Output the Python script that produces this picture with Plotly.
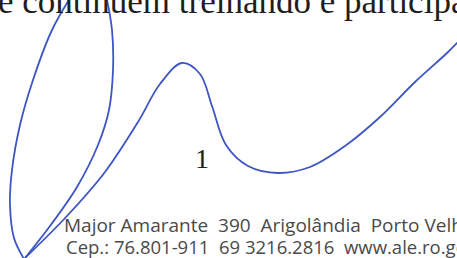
import plotly.graph_objects as go

# Signature strokes (pixel-like coordinates, y downward)
left_x = [72, 52, 33, 20, 12, 10, 14, 24]
left_y = [-5, 30, 80, 125, 170, 205, 238, 259]

right_x = [106, 112, 113, 109, 98, 77, 50, 25]
right_y = [-5, 30, 70, 110, 145, 187, 226, 258]

wave_x = [25, 67, 105, 138, 160, 182, 200, 212, 226, 248, 278, 310, 345, 380, 415, 447, 460]
wave_y = [258, 216, 172, 122, 84, 63, 74, 106, 145, 166, 173, 167, 146, 117, 82, 53, 40]

# Text lines
top_line = "e continuem treinando e participa"
page_number = "1"
address_lines = ["Major Amarante  390  Arigolândia  Porto Velho",
                 "Cep.: 76.801-911  69 3216.2816  www.ale.ro.gov.br"]

ink = "#3d56c4"

fig = go.Figure()
for xs, ys in [(left_x, left_y), (right_x, right_y), (wave_x, wave_y)]:
    fig.add_trace(go.Scatter(x=xs, y=ys, mode="lines",
                             line=dict(color=ink, width=1.8, shape="spline", smoothing=1.0),
                             hoverinfo="skip", showlegend=False))

fig.add_annotation(xref="paper", yref="paper", x=-0.008, y=1.0, text=top_line, showarrow=False,
                   xanchor="left", yanchor="middle", yshift=-1,
                   font=dict(family="Liberation Serif", size=35, color="#1e1e1e"))
fig.add_annotation(x=202, y=158, text=page_number, showarrow=False, xanchor="center", yanchor="middle",
                   font=dict(family="Liberation Serif", size=28, color="#1e1e1e"))
fig.add_annotation(x=62, y=225, text=address_lines[0], showarrow=False, xanchor="left", yanchor="middle",
                   font=dict(family="Open Sans", size=19, color="#4a4a4a"))
fig.add_annotation(x=64, y=246, text=address_lines[1], showarrow=False, xanchor="left", yanchor="middle",
                   font=dict(family="Open Sans", size=18.5, color="#4a4a4a"))

fig.update_layout(width=457, height=258, margin=dict(l=0, r=0, t=0, b=0),
                  paper_bgcolor="white", plot_bgcolor="white",
                  xaxis=dict(range=[0, 457], visible=False, fixedrange=True),
                  yaxis=dict(range=[258, 0], visible=False, fixedrange=True))
fig.write_html("out.html", config={"displayModeBar": False},
               post_script="document.body.style.margin='0px';document.body.style.overflow='hidden';")
